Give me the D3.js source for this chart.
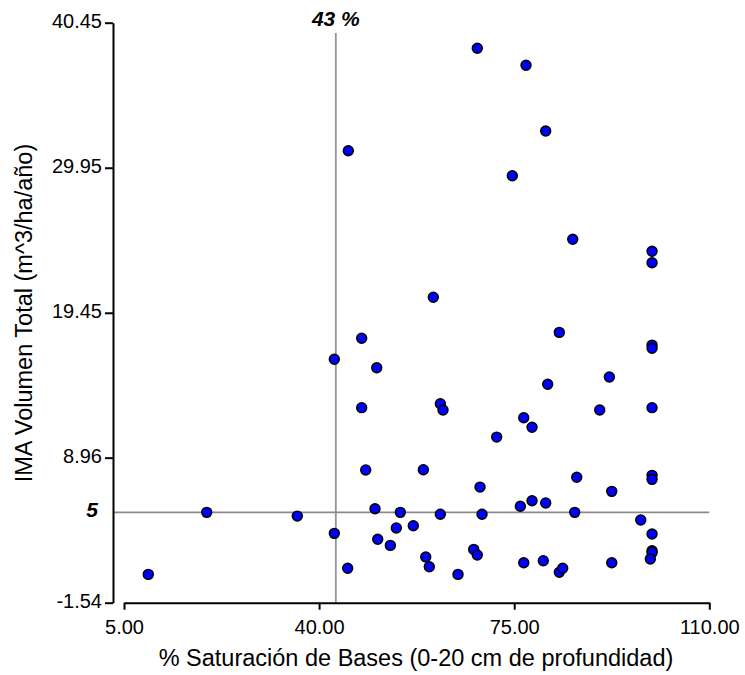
<!DOCTYPE html>
<html>
<head>
<meta charset="utf-8">
<script src="https://cdn.jsdelivr.net/npm/d3@7"></script>
<style>
  html, body { margin: 0; padding: 0; background: #fff; }
  svg text { font-family: "Liberation Sans", Arial, sans-serif; }
</style>
</head>
<body>
<svg id="chart" width="745" height="675"></svg>
<script>
// Base saturation (%) and total volume MAI (m^3/ha/año) per plot
const saturacion = [
  9.36, 19.84, 36.09, 42.73, 42.73, 45.13, 47.64, 50.34, 47.64, 48.36,
  50.03, 50.52, 45.24, 68.38, 77.12, 80.65, 74.66, 85.5, 99.73, 99.73,
  60.49, 83.09, 99.73, 99.73, 92.07, 81.01, 61.75, 62.23, 90.34, 99.73,
  76.71, 78.2, 71.86, 58.7, 86.22, 99.73, 99.73, 68.87, 92.5, 78.2,
  80.65, 76.1, 54.57, 61.75, 69.23, 85.86, 97.7, 56.9, 53.85, 99.73,
  52.78, 67.74, 68.38, 99.73, 99.73, 99.42, 59.13, 59.77, 76.71, 80.22,
  92.5, 83.09, 83.7, 64.92
];
const imaVolumen = [
  0.51, 5.0, 4.73, 16.08, 3.48, 0.95, 17.6, 15.47, 12.58, 8.07,
  5.26, 3.05, 31.18, 38.6, 37.37, 32.61, 29.37, 24.77, 23.9, 23.07,
  20.57, 18.03, 17.11, 16.88, 14.8, 14.27, 12.87, 12.41, 12.41, 12.58,
  11.85, 11.16, 10.45, 8.09, 7.54, 7.68, 7.39, 6.83, 6.52, 5.84,
  5.68, 5.44, 5.0, 4.86, 4.86, 5.0, 4.45, 4.03, 3.87, 3.43,
  2.61, 2.32, 1.91, 2.22, 2.1, 1.62, 1.77, 1.06, 1.35, 1.5,
  1.35, 0.66, 0.95, 0.51
];

const xTicks = [5, 40, 75, 110];
const yTicks = [-1.54, 8.96, 19.45, 29.95, 40.45];

// Threshold reference lines
const umbralSaturacion = 43;
const umbralVolumen = 5;

const svg = d3.select("#chart");

const x = d3.scaleLinear().domain([5, 110]).range([124, 709.3]);
const y = d3.scaleLinear().domain([-1.54, 40.45]).range([602.7, 22.7]);

// Two decimals with a plain hyphen for negatives
const fmt = d => d.toFixed(2);

// Reference lines
svg.append("line")
  .attr("x1", x(umbralSaturacion)).attr("x2", x(umbralSaturacion))
  .attr("y1", 33).attr("y2", y(-1.54))
  .attr("stroke", "#959595").attr("stroke-width", 1.8);

svg.append("line")
  .attr("x1", 113).attr("x2", x(110))
  .attr("y1", y(umbralVolumen)).attr("y2", y(umbralVolumen))
  .attr("stroke", "#8a8a8a").attr("stroke-width", 1.8);

// X axis
const gx = svg.append("g")
  .attr("transform", `translate(0,${y(-1.54)})`)
  .call(d3.axisBottom(x).tickValues(xTicks).tickFormat(fmt).tickSize(7).tickSizeOuter(0).tickPadding(10));

// Y axis
const gy = svg.append("g")
  .attr("transform", "translate(113,0)")
  .call(d3.axisLeft(y).tickValues(yTicks).tickFormat(fmt).tickSize(8).tickSizeOuter(0).tickPadding(3));

[gx, gy].forEach(g => {
  g.select(".domain").attr("stroke", "#000").attr("stroke-width", 2);
  g.selectAll(".tick line").attr("stroke", "#000").attr("stroke-width", 2);
  g.selectAll(".tick text")
    .attr("fill", "#000")
    .style("font-family", "'Liberation Sans', Arial, sans-serif")
    .style("font-size", "20px");
});
gy.selectAll(".tick text").attr("dy", "0.22em");

// Points
svg.append("g")
  .selectAll("circle")
  .data(saturacion.map((s, i) => [s, imaVolumen[i]]))
  .join("circle")
  .attr("cx", d => x(d[0]))
  .attr("cy", d => y(d[1]))
  .attr("r", 4.9)
  .attr("fill", "#0000ff")
  .attr("stroke", "#000")
  .attr("stroke-width", 1.6);

// Threshold labels
svg.append("text")
  .attr("x", x(umbralSaturacion)).attr("y", 26)
  .attr("text-anchor", "middle")
  .style("font-size", "21px").style("font-weight", "bold").style("font-style", "italic")
  .text("43 %");

svg.append("text")
  .attr("x", 98).attr("y", 517)
  .attr("text-anchor", "end")
  .style("font-size", "21px").style("font-weight", "bold").style("font-style", "italic")
  .text("5");

// Axis titles
svg.append("text")
  .attr("x", 416).attr("y", 666)
  .attr("text-anchor", "middle")
  .style("font-size", "23.5px")
  .text("% Saturación de Bases (0-20 cm de profundidad)");

svg.append("text")
  .attr("transform", "translate(32,313) rotate(-90)")
  .attr("text-anchor", "middle")
  .style("font-size", "23.5px")
  .text("IMA Volumen Total (m^3/ha/año)");
</script>
</body>
</html>
